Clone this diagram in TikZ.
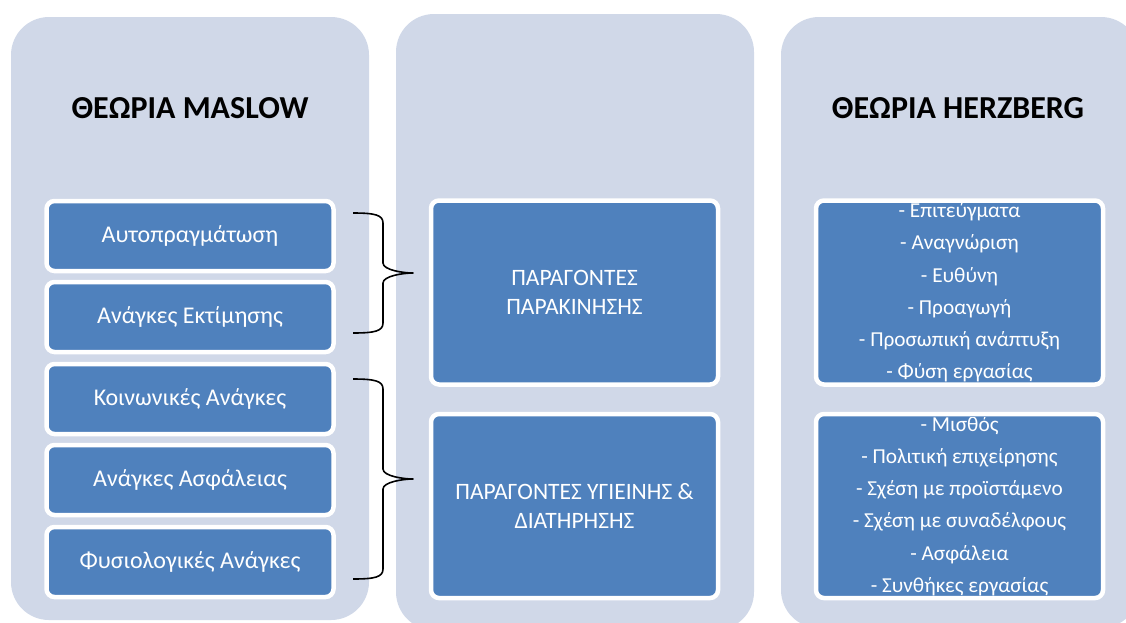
\documentclass[tikz,border=0pt]{standalone}
\usepackage{fontspec}
\setmainfont{Carlito}
\definecolor{colbg}{RGB}{208,216,232}
\definecolor{boxblue}{RGB}{79,129,189}
\tikzset{
  column/.style={fill=colbg, rounded corners=38pt},
  needbox/.style={draw=white, line width=4.5pt, fill=boxblue, rounded corners=8pt,
    minimum width=287pt, minimum height=70pt, inner sep=0pt, outer sep=0pt,
    text=white, font=\fontsize{24}{28}\selectfont},
  factorbox/.style={needbox, minimum height=184pt, align=center,
    font=\fontsize{23.5}{29}\selectfont},
  listtext/.style={text=white, align=center, inner sep=0pt,
    font=\fontsize{21.3}{32.2}\selectfont},
  title/.style={font=\bfseries\fontsize{32}{36}\selectfont},
  brace line/.style={line width=1.6pt, line join=round},
}
\begin{document}
\begin{tikzpicture}[x=1pt,y=-1pt]
  \newcommand\curly[4]{% name, x, top, bottom
  \pgfmathsetmacro{\bmid}{(#3+#4)/2}
  \coordinate (#1top) at (#2,#3);
  \coordinate (#1bot) at (#2,#4);
  \coordinate (#1tip) at (#2+60,\bmid);
  \draw[brace line] (#1top) .. controls +(22,0) and +(0,-8) .. (#2+30,#3+10)
    -- (#2+30,\bmid-10) .. controls +(0,7) and +(-10,0) .. (#1tip)
    .. controls +(-10,0) and +(0,-7) .. (#2+30,\bmid+10)
    -- (#2+30,#4-10) .. controls +(0,8) and +(22,0) .. (#1bot);}
  \clip (0,0) rectangle (1126,622);
  % columns
  \fill[column] (11,17) rectangle (369,620);
  \fill[column] (396,14) rectangle (754,630);
  \fill[column] (781,17) rectangle (1139,628);
  \node[title] (maslow) at (190,108) {ΘΕΩΡΙΑ MASLOW};
  \node[title] (herzberg) at (958,108) {ΘΕΩΡΙΑ HERZBERG};
  % Maslow pyramid, top to bottom
  \foreach \lbl/\yy [count=\i] in {Αυτοπραγμάτωση/236, Ανάγκες Εκτίμησης/317,
      Κοινωνικές Ανάγκες/399, Ανάγκες Ασφάλειας/480, Φυσιολογικές Ανάγκες/562}
    \node[needbox] (need\i) at (190,\yy) {\lbl};
  \node[factorbox] (motiv) at (574.5,292.5) {ΠΑΡΑΓΟΝΤΕΣ\\ΠΑΡΑΚΙΝΗΣΗΣ};
  \node[factorbox] (hygiene) at (574.5,506) {ΠΑΡΑΓΟΝΤΕΣ ΥΓΙΕΙΝΗΣ \&\\ΔΙΑΤΗΡΗΣΗΣ};
  \curly{bA}{353}{213}{333}
  \curly{bB}{353}{379}{579}
  \node[factorbox] (herzA) at (959.5,292.5) {};
  \node[factorbox] (herzB) at (959.5,506) {};
  \begin{scope}
    \clip[rounded corners=6pt] (819,203) rectangle (1100,382);
    \node[listtext] (listA) at (959.5,292.5) {- Επιτεύγματα\\- Αναγνώριση\\- Ευθύνη\\- Προαγωγή\\- Προσωπική ανάπτυξη\\- Φύση εργασίας};
  \end{scope}
  \begin{scope}
    \clip[rounded corners=6pt] (819,417) rectangle (1100,595);
    \node[listtext] (listB) at (959.5,506) {- Μισθός\\- Πολιτική επιχείρησης\\- Σχέση με προϊστάμενο\\- Σχέση με συναδέλφους\\- Ασφάλεια\\- Συνθήκες εργασίας};
  \end{scope}
\end{tikzpicture}
\end{document}
